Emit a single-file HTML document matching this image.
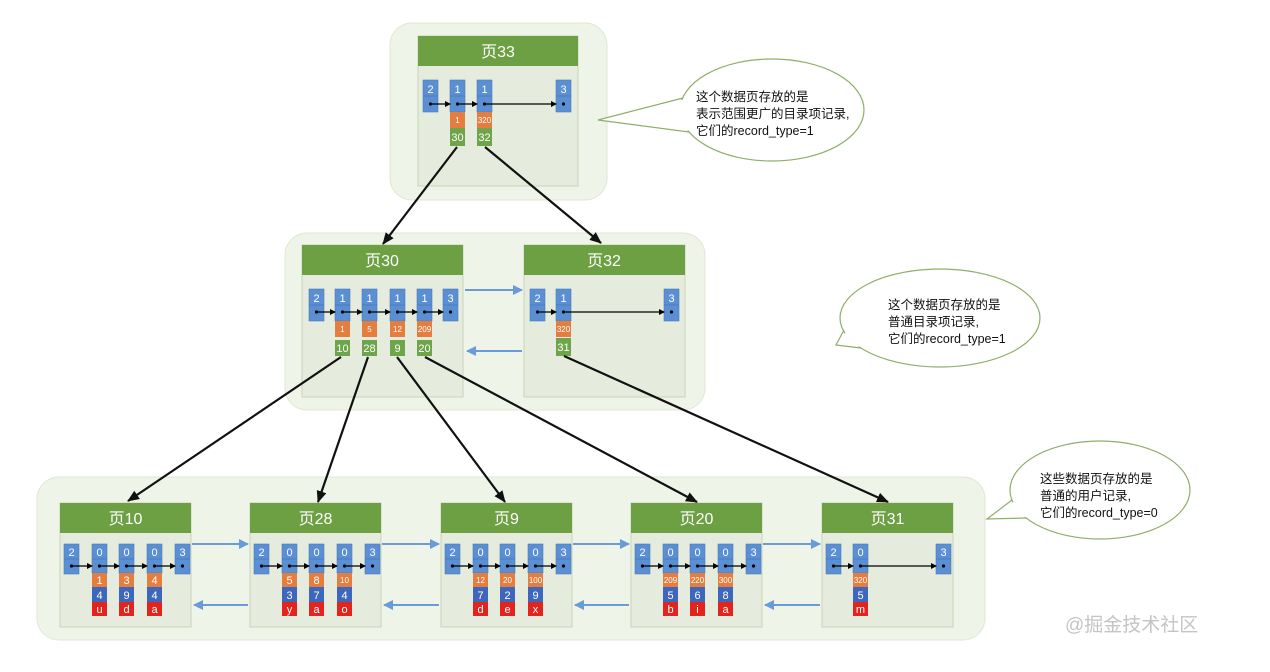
<!DOCTYPE html>
<html><head><meta charset="utf-8"><style>
body{margin:0;background:#fff;width:1270px;height:672px;overflow:hidden}
svg{display:block}
.n{font-family:"Liberation Sans",sans-serif;font-size:11px;fill:#fff;text-anchor:middle}
.s{font-size:8px}
.h{font-family:"Liberation Sans","Noto Sans CJK SC",sans-serif;font-size:16px;fill:#fff;text-anchor:middle}
.c{font-family:"Liberation Sans","Noto Sans CJK SC",sans-serif;font-size:12.5px;fill:#111}
.b{fill:#5b8fd3;stroke:#4a7cbf;stroke-width:.6}
.o{fill:#e47d3e}.g{fill:#6ea54a}.d{fill:#3d66bd}.r{fill:#e2241f}
.pg{fill:#e6ecdd;stroke:#c9d3bb}
.hd{fill:#6d9f43}
.ct{fill:#eef4e7;stroke:#dfe8d5}
.ln{stroke:#000;stroke-width:1.2;marker-end:url(#sa)}
.bl{stroke:#6a9ad8;stroke-width:2;marker-end:url(#ba)}
.tr{stroke:#111;stroke-width:2.2;marker-end:url(#ta)}
.tl{fill:none;stroke:#8fae6a;stroke-width:1.2}
</style></head><body>
<svg width="1270" height="672" xmlns="http://www.w3.org/2000/svg">
<defs>
<marker id="sa" markerWidth="6" markerHeight="6" refX="5" refY="3" orient="auto" markerUnits="userSpaceOnUse"><path d="M0,0L6,3L0,6z" fill="#000"/></marker>
<marker id="ba" markerWidth="10" markerHeight="10" refX="9" refY="5" orient="auto" markerUnits="userSpaceOnUse"><path d="M0,0L10,5L0,10z" fill="#6a9ad8"/></marker>
<marker id="ta" markerWidth="12" markerHeight="12" refX="11" refY="6" orient="auto" markerUnits="userSpaceOnUse"><path d="M0,1L12,6L0,11z" fill="#111"/></marker>
</defs>

<rect class="ct" x="390" y="23" width="217" height="177" rx="22"/>
<rect class="ct" x="285" y="233" width="420" height="177" rx="22"/>
<rect class="ct" x="37" y="477" width="948" height="163" rx="22"/>

<!-- Page 33 -->
<rect class="pg" x="418" y="36" width="160" height="150"/>
<rect class="hd" x="418" y="36" width="160" height="30"/>
<text class="h" x="498" y="57">页33</text>
<rect class="b" x="423" y="80" width="15" height="32"/><line x1="423" y1="96" x2="438" y2="96" stroke="#4a7cbf"/>
<text class="n" x="430.5" y="93">2</text>
<rect class="b" x="450" y="80" width="15" height="32"/><line x1="450" y1="96" x2="465" y2="96" stroke="#4a7cbf"/>
<text class="n" x="457.5" y="93">1</text>
<rect class="o" x="450" y="112" width="15" height="16"/><text class="n s" x="457.5" y="123">1</text>
<rect class="g" x="450" y="128" width="15" height="18"/><text class="n" x="457.5" y="141">30</text>
<rect class="b" x="477" y="80" width="15" height="32"/><line x1="477" y1="96" x2="492" y2="96" stroke="#4a7cbf"/>
<text class="n" x="484.5" y="93">1</text>
<rect class="o" x="477" y="112" width="15" height="16"/><text class="n s" x="484.5" y="123">320</text>
<rect class="g" x="477" y="128" width="15" height="18"/><text class="n" x="484.5" y="141">32</text>
<rect class="b" x="556" y="80" width="15" height="32"/><line x1="556" y1="96" x2="571" y2="96" stroke="#4a7cbf"/>
<text class="n" x="563.5" y="93">3</text>
<g fill="#000"><circle cx="430.5" cy="104" r="1.6"/><circle cx="457.5" cy="104" r="1.6"/><circle cx="484.5" cy="104" r="1.6"/><circle cx="563.5" cy="104" r="1.6"/></g>
<line class="ln" x1="431" y1="104" x2="450" y2="104"/>
<line class="ln" x1="458" y1="104" x2="477" y2="104"/>
<line class="ln" x1="485" y1="104" x2="556" y2="104"/>

<!-- Page 30 -->
<rect class="pg" x="302" y="245" width="161" height="152"/>
<rect class="hd" x="302" y="245" width="161" height="30"/>
<text class="h" x="382" y="266">页30</text>
<g>
<rect class="b" x="309" y="289" width="15" height="32"/><line x1="309" y1="305" x2="324" y2="305" stroke="#4a7cbf"/><text class="n" x="316.5" y="302">2</text>
<rect class="b" x="335" y="289" width="15" height="32"/><line x1="335" y1="305" x2="350" y2="305" stroke="#4a7cbf"/><text class="n" x="342.5" y="302">1</text>
<rect class="o" x="335" y="321" width="15" height="16"/><text class="n s" x="342.5" y="332">1</text>
<rect class="g" x="335" y="340" width="15" height="16"/><text class="n" x="342.5" y="352">10</text>
<rect class="b" x="362" y="289" width="15" height="32"/><line x1="362" y1="305" x2="377" y2="305" stroke="#4a7cbf"/><text class="n" x="369.5" y="302">1</text>
<rect class="o" x="362" y="321" width="15" height="16"/><text class="n s" x="369.5" y="332">5</text>
<rect class="g" x="362" y="340" width="15" height="16"/><text class="n" x="369.5" y="352">28</text>
<rect class="b" x="390" y="289" width="15" height="32"/><line x1="390" y1="305" x2="405" y2="305" stroke="#4a7cbf"/><text class="n" x="397.5" y="302">1</text>
<rect class="o" x="390" y="321" width="15" height="16"/><text class="n s" x="397.5" y="332">12</text>
<rect class="g" x="390" y="340" width="15" height="16"/><text class="n" x="397.5" y="352">9</text>
<rect class="b" x="417" y="289" width="15" height="32"/><line x1="417" y1="305" x2="432" y2="305" stroke="#4a7cbf"/><text class="n" x="424.5" y="302">1</text>
<rect class="o" x="417" y="321" width="15" height="16"/><text class="n s" x="424.5" y="332">209</text>
<rect class="g" x="417" y="340" width="15" height="16"/><text class="n" x="424.5" y="352">20</text>
<rect class="b" x="443" y="289" width="15" height="32"/><line x1="443" y1="305" x2="458" y2="305" stroke="#4a7cbf"/><text class="n" x="450.5" y="302">3</text>
<g fill="#000"><circle cx="316.5" cy="312" r="1.6"/><circle cx="342.5" cy="312" r="1.6"/><circle cx="369.5" cy="312" r="1.6"/><circle cx="397.5" cy="312" r="1.6"/><circle cx="424.5" cy="312" r="1.6"/><circle cx="450.5" cy="312" r="1.6"/></g>
<line class="ln" x1="317" y1="312" x2="335" y2="312"/>
<line class="ln" x1="343" y1="312" x2="362" y2="312"/>
<line class="ln" x1="370" y1="312" x2="390" y2="312"/>
<line class="ln" x1="398" y1="312" x2="417" y2="312"/>
<line class="ln" x1="425" y1="312" x2="443" y2="312"/>
</g>

<!-- Page 32 -->
<rect class="pg" x="524" y="245" width="161" height="152"/>
<rect class="hd" x="524" y="245" width="161" height="30"/>
<text class="h" x="604" y="266">页32</text>
<rect class="b" x="530" y="289" width="15" height="32"/><line x1="530" y1="305" x2="545" y2="305" stroke="#4a7cbf"/><text class="n" x="537.5" y="302">2</text>
<rect class="b" x="556" y="289" width="15" height="32"/><line x1="556" y1="305" x2="571" y2="305" stroke="#4a7cbf"/><text class="n" x="563.5" y="302">1</text>
<rect class="o" x="556" y="321" width="15" height="16"/><text class="n s" x="563.5" y="332">320</text>
<rect class="g" x="556" y="338" width="15" height="18"/><text class="n" x="563.5" y="351">31</text>
<rect class="b" x="664" y="289" width="15" height="32"/><line x1="664" y1="305" x2="679" y2="305" stroke="#4a7cbf"/><text class="n" x="671.5" y="302">3</text>
<g fill="#000"><circle cx="537.5" cy="312" r="1.6"/><circle cx="563.5" cy="312" r="1.6"/><circle cx="671.5" cy="312" r="1.6"/></g>
<line class="ln" x1="538" y1="312" x2="556" y2="312"/>
<line class="ln" x1="564" y1="312" x2="664" y2="312"/>

<line class="bl" x1="465" y1="290" x2="522" y2="290"/>
<line class="bl" x1="522" y1="351" x2="467" y2="351"/>

<!-- Leaf pages -->
<rect class="pg" x="60" y="503" width="131" height="124"/>
<rect class="hd" x="60" y="503" width="131" height="30"/>
<text class="h" x="125.5" y="524">页10</text>
<rect class="pg" x="250" y="503" width="131" height="124"/>
<rect class="hd" x="250" y="503" width="131" height="30"/>
<text class="h" x="315.5" y="524">页28</text>
<rect class="pg" x="441" y="503" width="131" height="124"/>
<rect class="hd" x="441" y="503" width="131" height="30"/>
<text class="h" x="506.5" y="524">页9</text>
<rect class="pg" x="631" y="503" width="131" height="124"/>
<rect class="hd" x="631" y="503" width="131" height="30"/>
<text class="h" x="696.5" y="524">页20</text>
<rect class="pg" x="822" y="503" width="131" height="124"/>
<rect class="hd" x="822" y="503" width="131" height="30"/>
<text class="h" x="887.5" y="524">页31</text>

<g transform="translate(60,0)">
<rect class="b" x="4" y="544" width="15" height="30"/><line x1="4" y1="559" x2="19" y2="559" stroke="#4a7cbf"/><text class="n" x="11.5" y="556">2</text>
<rect class="b" x="32" y="544" width="15" height="29"/><line x1="32" y1="559" x2="47" y2="559" stroke="#4a7cbf"/><text class="n" x="39.5" y="556">0</text>
<rect class="o" x="32" y="573" width="15" height="14"/><text class="n" x="39.5" y="584">1</text>
<rect class="d" x="32" y="587" width="15" height="15"/><text class="n" x="39.5" y="599">4</text>
<rect class="r" x="32" y="602" width="15" height="14"/><text class="n" x="39.5" y="613">u</text>
<rect class="b" x="59" y="544" width="15" height="29"/><line x1="59" y1="559" x2="74" y2="559" stroke="#4a7cbf"/><text class="n" x="66.5" y="556">0</text>
<rect class="o" x="59" y="573" width="15" height="14"/><text class="n" x="66.5" y="584">3</text>
<rect class="d" x="59" y="587" width="15" height="15"/><text class="n" x="66.5" y="599">9</text>
<rect class="r" x="59" y="602" width="15" height="14"/><text class="n" x="66.5" y="613">d</text>
<rect class="b" x="87" y="544" width="15" height="29"/><line x1="87" y1="559" x2="102" y2="559" stroke="#4a7cbf"/><text class="n" x="94.5" y="556">0</text>
<rect class="o" x="87" y="573" width="15" height="14"/><text class="n" x="94.5" y="584">4</text>
<rect class="d" x="87" y="587" width="15" height="15"/><text class="n" x="94.5" y="599">4</text>
<rect class="r" x="87" y="602" width="15" height="14"/><text class="n" x="94.5" y="613">a</text>
<rect class="b" x="115" y="544" width="15" height="30"/><line x1="115" y1="559" x2="130" y2="559" stroke="#4a7cbf"/><text class="n" x="122.5" y="556">3</text>
<g fill="#000"><circle cx="11.5" cy="566" r="1.6"/><circle cx="39.5" cy="566" r="1.6"/><circle cx="66.5" cy="566" r="1.6"/><circle cx="94.5" cy="566" r="1.6"/><circle cx="122.5" cy="566" r="1.6"/></g>
<line class="ln" x1="12" y1="566" x2="32" y2="566"/><line class="ln" x1="40" y1="566" x2="59" y2="566"/><line class="ln" x1="67" y1="566" x2="87" y2="566"/><line class="ln" x1="95" y1="566" x2="115" y2="566"/>
</g>
<g transform="translate(250,0)">
<rect class="b" x="4" y="544" width="15" height="30"/><line x1="4" y1="559" x2="19" y2="559" stroke="#4a7cbf"/><text class="n" x="11.5" y="556">2</text>
<rect class="b" x="32" y="544" width="15" height="29"/><line x1="32" y1="559" x2="47" y2="559" stroke="#4a7cbf"/><text class="n" x="39.5" y="556">0</text>
<rect class="o" x="32" y="573" width="15" height="14"/><text class="n" x="39.5" y="584">5</text>
<rect class="d" x="32" y="587" width="15" height="15"/><text class="n" x="39.5" y="599">3</text>
<rect class="r" x="32" y="602" width="15" height="14"/><text class="n" x="39.5" y="613">y</text>
<rect class="b" x="59" y="544" width="15" height="29"/><line x1="59" y1="559" x2="74" y2="559" stroke="#4a7cbf"/><text class="n" x="66.5" y="556">0</text>
<rect class="o" x="59" y="573" width="15" height="14"/><text class="n" x="66.5" y="584">8</text>
<rect class="d" x="59" y="587" width="15" height="15"/><text class="n" x="66.5" y="599">7</text>
<rect class="r" x="59" y="602" width="15" height="14"/><text class="n" x="66.5" y="613">a</text>
<rect class="b" x="87" y="544" width="15" height="29"/><line x1="87" y1="559" x2="102" y2="559" stroke="#4a7cbf"/><text class="n" x="94.5" y="556">0</text>
<rect class="o" x="87" y="573" width="15" height="14"/><text class="n s" x="94.5" y="583">10</text>
<rect class="d" x="87" y="587" width="15" height="15"/><text class="n" x="94.5" y="599">4</text>
<rect class="r" x="87" y="602" width="15" height="14"/><text class="n" x="94.5" y="613">o</text>
<rect class="b" x="115" y="544" width="15" height="30"/><line x1="115" y1="559" x2="130" y2="559" stroke="#4a7cbf"/><text class="n" x="122.5" y="556">3</text>
<g fill="#000"><circle cx="11.5" cy="566" r="1.6"/><circle cx="39.5" cy="566" r="1.6"/><circle cx="66.5" cy="566" r="1.6"/><circle cx="94.5" cy="566" r="1.6"/><circle cx="122.5" cy="566" r="1.6"/></g>
<line class="ln" x1="12" y1="566" x2="32" y2="566"/><line class="ln" x1="40" y1="566" x2="59" y2="566"/><line class="ln" x1="67" y1="566" x2="87" y2="566"/><line class="ln" x1="95" y1="566" x2="115" y2="566"/>
</g>
<g transform="translate(441,0)">
<rect class="b" x="4" y="544" width="15" height="30"/><line x1="4" y1="559" x2="19" y2="559" stroke="#4a7cbf"/><text class="n" x="11.5" y="556">2</text>
<rect class="b" x="32" y="544" width="15" height="29"/><line x1="32" y1="559" x2="47" y2="559" stroke="#4a7cbf"/><text class="n" x="39.5" y="556">0</text>
<rect class="o" x="32" y="573" width="15" height="14"/><text class="n s" x="39.5" y="583">12</text>
<rect class="d" x="32" y="587" width="15" height="15"/><text class="n" x="39.5" y="599">7</text>
<rect class="r" x="32" y="602" width="15" height="14"/><text class="n" x="39.5" y="613">d</text>
<rect class="b" x="59" y="544" width="15" height="29"/><line x1="59" y1="559" x2="74" y2="559" stroke="#4a7cbf"/><text class="n" x="66.5" y="556">0</text>
<rect class="o" x="59" y="573" width="15" height="14"/><text class="n s" x="66.5" y="583">20</text>
<rect class="d" x="59" y="587" width="15" height="15"/><text class="n" x="66.5" y="599">2</text>
<rect class="r" x="59" y="602" width="15" height="14"/><text class="n" x="66.5" y="613">e</text>
<rect class="b" x="87" y="544" width="15" height="29"/><line x1="87" y1="559" x2="102" y2="559" stroke="#4a7cbf"/><text class="n" x="94.5" y="556">0</text>
<rect class="o" x="87" y="573" width="15" height="14"/><text class="n s" x="94.5" y="583">100</text>
<rect class="d" x="87" y="587" width="15" height="15"/><text class="n" x="94.5" y="599">9</text>
<rect class="r" x="87" y="602" width="15" height="14"/><text class="n" x="94.5" y="613">x</text>
<rect class="b" x="115" y="544" width="15" height="30"/><line x1="115" y1="559" x2="130" y2="559" stroke="#4a7cbf"/><text class="n" x="122.5" y="556">3</text>
<g fill="#000"><circle cx="11.5" cy="566" r="1.6"/><circle cx="39.5" cy="566" r="1.6"/><circle cx="66.5" cy="566" r="1.6"/><circle cx="94.5" cy="566" r="1.6"/><circle cx="122.5" cy="566" r="1.6"/></g>
<line class="ln" x1="12" y1="566" x2="32" y2="566"/><line class="ln" x1="40" y1="566" x2="59" y2="566"/><line class="ln" x1="67" y1="566" x2="87" y2="566"/><line class="ln" x1="95" y1="566" x2="115" y2="566"/>
</g>
<g transform="translate(631,0)">
<rect class="b" x="4" y="544" width="15" height="30"/><line x1="4" y1="559" x2="19" y2="559" stroke="#4a7cbf"/><text class="n" x="11.5" y="556">2</text>
<rect class="b" x="32" y="544" width="15" height="29"/><line x1="32" y1="559" x2="47" y2="559" stroke="#4a7cbf"/><text class="n" x="39.5" y="556">0</text>
<rect class="o" x="32" y="573" width="15" height="14"/><text class="n s" x="39.5" y="583">209</text>
<rect class="d" x="32" y="587" width="15" height="15"/><text class="n" x="39.5" y="599">5</text>
<rect class="r" x="32" y="602" width="15" height="14"/><text class="n" x="39.5" y="613">b</text>
<rect class="b" x="59" y="544" width="15" height="29"/><line x1="59" y1="559" x2="74" y2="559" stroke="#4a7cbf"/><text class="n" x="66.5" y="556">0</text>
<rect class="o" x="59" y="573" width="15" height="14"/><text class="n s" x="66.5" y="583">220</text>
<rect class="d" x="59" y="587" width="15" height="15"/><text class="n" x="66.5" y="599">6</text>
<rect class="r" x="59" y="602" width="15" height="14"/><text class="n" x="66.5" y="613">i</text>
<rect class="b" x="87" y="544" width="15" height="29"/><line x1="87" y1="559" x2="102" y2="559" stroke="#4a7cbf"/><text class="n" x="94.5" y="556">0</text>
<rect class="o" x="87" y="573" width="15" height="14"/><text class="n s" x="94.5" y="583">300</text>
<rect class="d" x="87" y="587" width="15" height="15"/><text class="n" x="94.5" y="599">8</text>
<rect class="r" x="87" y="602" width="15" height="14"/><text class="n" x="94.5" y="613">a</text>
<rect class="b" x="115" y="544" width="15" height="30"/><line x1="115" y1="559" x2="130" y2="559" stroke="#4a7cbf"/><text class="n" x="122.5" y="556">3</text>
<g fill="#000"><circle cx="11.5" cy="566" r="1.6"/><circle cx="39.5" cy="566" r="1.6"/><circle cx="66.5" cy="566" r="1.6"/><circle cx="94.5" cy="566" r="1.6"/><circle cx="122.5" cy="566" r="1.6"/></g>
<line class="ln" x1="12" y1="566" x2="32" y2="566"/><line class="ln" x1="40" y1="566" x2="59" y2="566"/><line class="ln" x1="67" y1="566" x2="87" y2="566"/><line class="ln" x1="95" y1="566" x2="115" y2="566"/>
</g>
<g transform="translate(822,0)">
<rect class="b" x="4" y="544" width="15" height="30"/><line x1="4" y1="559" x2="19" y2="559" stroke="#4a7cbf"/><text class="n" x="11.5" y="556">2</text>
<rect class="b" x="31" y="544" width="15" height="29"/><line x1="31" y1="559" x2="46" y2="559" stroke="#4a7cbf"/><text class="n" x="38.5" y="556">0</text>
<rect class="o" x="31" y="573" width="15" height="14"/><text class="n s" x="38.5" y="583">320</text>
<rect class="d" x="31" y="587" width="15" height="15"/><text class="n" x="38.5" y="599">5</text>
<rect class="r" x="31" y="602" width="15" height="14"/><text class="n" x="38.5" y="613">m</text>
<rect class="b" x="114" y="544" width="15" height="30"/><line x1="114" y1="559" x2="129" y2="559" stroke="#4a7cbf"/><text class="n" x="121.5" y="556">3</text>
<g fill="#000"><circle cx="11.5" cy="566" r="1.6"/><circle cx="38.5" cy="566" r="1.6"/><circle cx="121.5" cy="566" r="1.6"/></g>
<line class="ln" x1="12" y1="566" x2="31" y2="566"/><line class="ln" x1="39" y1="566" x2="114" y2="566"/>
</g>

<line class="bl" x1="192" y1="544" x2="248" y2="544"/><line class="bl" x1="248" y1="605" x2="194" y2="605"/>
<line class="bl" x1="382" y1="544" x2="439" y2="544"/><line class="bl" x1="439" y1="605" x2="384" y2="605"/>
<line class="bl" x1="573" y1="544" x2="629" y2="544"/><line class="bl" x1="629" y1="605" x2="575" y2="605"/>
<line class="bl" x1="763" y1="544" x2="820" y2="544"/><line class="bl" x1="820" y1="605" x2="765" y2="605"/>

<line class="tr" x1="457" y1="147" x2="383" y2="244"/>
<line class="tr" x1="485" y1="147" x2="601" y2="243"/>
<line class="tr" x1="341" y1="357" x2="128" y2="501"/>
<line class="tr" x1="368" y1="357" x2="318" y2="502"/>
<line class="tr" x1="397" y1="357" x2="505" y2="502"/>
<line class="tr" x1="425" y1="357" x2="697" y2="502"/>
<line class="tr" x1="564" y1="356" x2="888" y2="502"/>

<!-- callouts -->
<ellipse cx="772" cy="110" rx="92" ry="51" fill="#fff" stroke="#8fae6a" stroke-width="1.2"/>
<polygon points="686,99 598,120 692,131" fill="#fff"/>
<polyline class="tl" points="683,98 598,120 689,132"/>
<text class="c" x="696" y="101">这个数据页存放的是</text>
<text class="c" x="696" y="118">表示范围更广的目录项记录,</text>
<text class="c" x="696" y="135">它们的record_type=1</text>

<ellipse cx="940" cy="318" rx="100" ry="49" fill="#fff" stroke="#8fae6a" stroke-width="1.2"/>
<polygon points="847,331 836,345 864,347" fill="#fff"/>
<polyline class="tl" points="844,330 836,345 861,348"/>
<text class="c" x="888" y="309">这个数据页存放的是</text>
<text class="c" x="888" y="326">普通目录项记录,</text>
<text class="c" x="888" y="343">它们的record_type=1</text>

<ellipse cx="1100" cy="490" rx="90" ry="49" fill="#fff" stroke="#8fae6a" stroke-width="1.2"/>
<polygon points="1015,501 987,519 1029,517" fill="#fff"/>
<polyline class="tl" points="1012,500 987,519 1026,518"/>
<text class="c" x="1040" y="483">这些数据页存放的是</text>
<text class="c" x="1040" y="500">普通的用户记录,</text>
<text class="c" x="1040" y="517">它们的record_type=0</text>

<text x="1065" y="631" style="font-family:'Liberation Sans','Noto Sans CJK SC',sans-serif;font-size:19px;fill:#c4c4c4">@掘金技术社区</text>
</svg>
</body></html>
